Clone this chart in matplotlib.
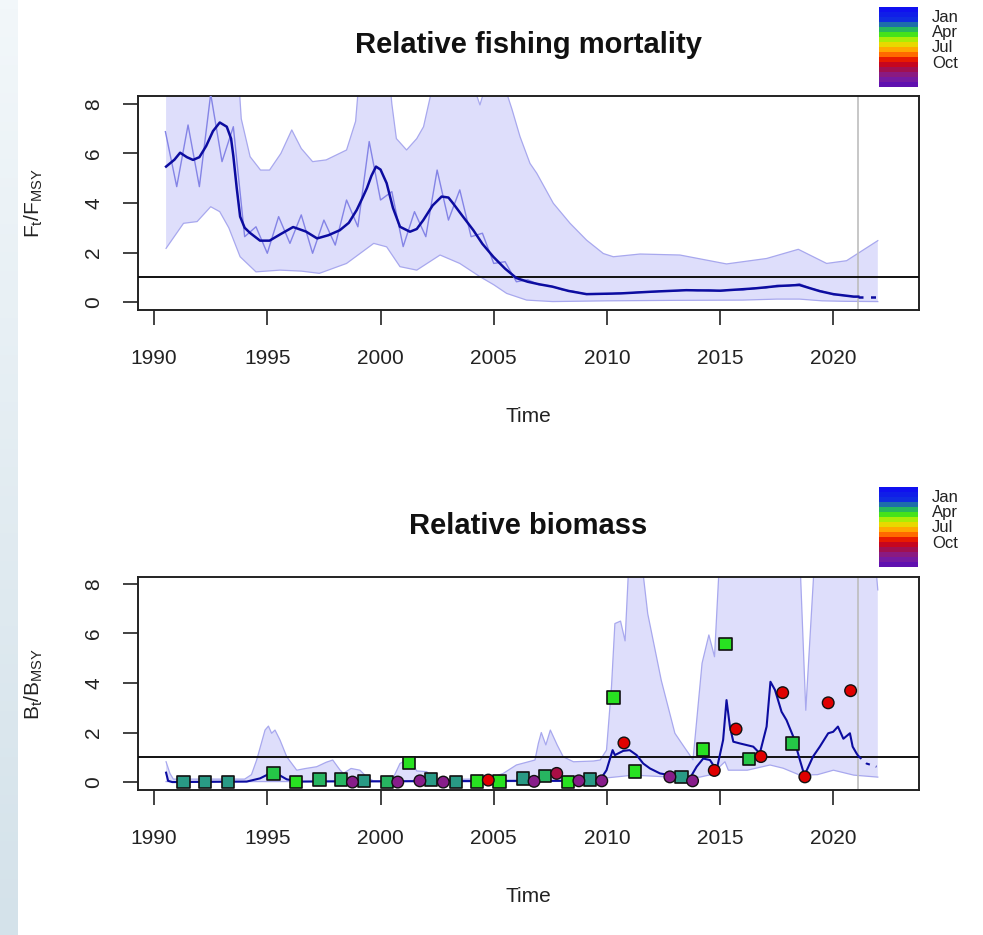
import numpy as np
import matplotlib
matplotlib.use("Agg")
import matplotlib.pyplot as plt
from matplotlib.colors import LinearSegmentedColormap

plt.rcParams['font.family'] = ['Liberation Sans', 'DejaVu Sans']
plt.rcParams['mathtext.default'] = 'regular'

# ---------------- data: relative fishing mortality ----------------
f_smooth_t = [1990.53, 1990.9, 1991.15, 1991.45, 1991.72, 1992.0, 1992.3, 1992.6, 1992.9, 1993.21,
              1993.4, 1993.5, 1993.65, 1993.8, 1994.0, 1994.24, 1994.68, 1995.1, 1995.6, 1996.14,
              1996.7, 1997.2, 1997.7, 1998.2, 1998.6, 1998.95, 1999.2, 1999.4, 1999.6, 1999.8,
              2000.0, 2000.27, 2000.55, 2000.86, 2001.3, 2001.6, 2001.89, 2002.3, 2002.7, 2003.0,
              2003.2, 2003.6, 2004.1, 2004.5, 2004.98, 2005.5, 2006.0, 2006.5, 2007.0, 2007.6,
              2008.3, 2009.1, 2010.6, 2012.0, 2013.5, 2015.0, 2016.5, 2017.6, 2018.5, 2019.4,
              2020.0, 2020.9, 2021.1]
f_smooth = [5.47, 5.75, 6.03, 5.85, 5.74, 5.85, 6.3, 6.9, 7.25, 7.08,
            6.6, 5.9, 4.6, 3.45, 3.0, 2.79, 2.48, 2.48, 2.75, 3.03,
            2.85, 2.57, 2.7, 2.9, 3.2, 3.72, 4.2, 4.6, 5.1, 5.47,
            5.35, 4.8, 3.8, 3.04, 2.84, 2.95, 3.31, 3.9, 4.26, 4.22,
            3.99, 3.5, 2.9, 2.35, 1.83, 1.35, 0.97, 0.82, 0.72, 0.62,
            0.45, 0.32, 0.35, 0.42, 0.48, 0.46, 0.55, 0.65, 0.69, 0.44,
            0.32, 0.22, 0.22]
f_pred_t = [2021.1, 2021.9]
f_pred = [0.22, 0.22]

f_season_t = [1990.5, 1991.0, 1991.5, 1992.0, 1992.5, 1993.0, 1993.5, 1994.0, 1994.5, 1995.0,
              1995.5, 1996.0, 1996.5, 1997.0, 1997.5, 1998.0, 1998.5, 1999.0, 1999.5, 2000.0,
              2000.5, 2001.0, 2001.5, 2002.0, 2002.5, 2003.0, 2003.5, 2004.0, 2004.5, 2005.0,
              2005.5, 2006.0, 2006.5, 2007.0, 2007.5, 2008.0, 2008.5, 2009.0, 2009.5, 2010.0,
              2010.5, 2011.0, 2011.5, 2012.0, 2012.5, 2013.0, 2013.5, 2014.0, 2014.5, 2015.0,
              2015.5, 2016.0, 2016.5, 2017.0, 2017.5, 2018.0, 2018.5, 2019.0, 2019.5, 2020.0,
              2020.5, 2021.0]
f_season = [6.88, 4.66, 7.15, 4.66, 8.4, 5.67, 7.08, 2.64, 3.04, 1.97,
            3.45, 2.37, 3.52, 1.97, 3.31, 2.3, 4.12, 3.04, 6.48, 4.12,
            4.46, 2.24, 3.65, 2.64, 5.33, 3.31, 4.53, 2.64, 2.78, 1.56,
            1.63, 0.82, 0.9, 0.7, 0.66, 0.5, 0.44, 0.33, 0.34, 0.31,
            0.37, 0.36, 0.42, 0.4, 0.46, 0.44, 0.5, 0.46, 0.5, 0.44,
            0.5, 0.48, 0.58, 0.56, 0.68, 0.64, 0.74, 0.55, 0.44, 0.3,
            0.26, 0.2]

f_up_t = [1990.53, 1993.7, 1993.85, 1994.24, 1994.7, 1995.1, 1995.6, 1996.08, 1996.5, 1997.0,
          1997.6, 1998.5, 1998.9, 1999.1, 2000.35, 2000.5, 2000.7, 2001.15, 2001.6, 2001.9,
          2002.2, 2002.35, 2004.15, 2004.39, 2004.6, 2005.55, 2005.8, 2006.16, 2006.6, 2006.9,
          2007.63, 2008.37, 2009.1, 2009.84, 2010.28, 2011.46, 2013.22, 2015.28, 2017.05, 2018.45,
          2019.7, 2020.58, 2021.96]
f_up = [9.5, 9.5, 7.4, 5.87, 5.33, 5.33, 6.0, 6.95, 6.2, 5.67,
        5.74, 6.14, 7.3, 9.5, 9.5, 8.0, 6.6, 6.14, 6.6, 7.08,
        8.3, 9.5, 8.6, 7.96, 8.6, 8.5, 7.8, 6.68, 5.6, 5.2,
        3.99, 3.18, 2.5, 1.96, 1.83, 1.94, 1.9, 1.54, 1.76, 2.13,
        1.56, 1.67, 2.48]
f_lo_t = [1990.53, 1991.3, 1991.9, 1992.5, 1992.9, 1993.3, 1993.8, 1994.5, 1995.56, 1996.5,
          1997.3, 1998.5, 1999.7, 2000.27, 2000.86, 2001.6, 2002.63, 2003.5, 2004.4, 2005.0,
          2005.57, 2006.45, 2007.6, 2010.0, 2013.0, 2016.0, 2017.5, 2018.5, 2019.5, 2020.5,
          2021.96]
f_lo = [2.17, 3.18, 3.25, 3.85, 3.65, 3.0, 1.83, 1.22, 1.29, 1.25,
        1.16, 1.56, 2.37, 2.23, 1.43, 1.29, 1.9, 1.56, 1.02, 0.7,
        0.35, 0.08, 0.02, 0.05, 0.07, 0.08, 0.12, 0.12, 0.05, 0.03,
        0.02]

# ---------------- data: relative biomass ----------------
b_smooth_t = [1990.53, 1990.62, 1990.8, 1994.09, 1994.68, 1995.12, 1995.4, 1995.86, 1996.4, 1998.0,
              2000.0, 2002.0, 2004.0, 2006.0, 2008.0, 2009.69, 2009.98, 2010.25, 2010.35, 2010.72,
              2011.0, 2011.31, 2011.6, 2011.9, 2012.34, 2012.78, 2013.22, 2013.66, 2013.96, 2014.25,
              2014.55, 2014.84, 2015.13, 2015.28, 2015.43, 2015.58, 2015.87, 2016.46, 2016.75, 2017.05,
              2017.22, 2017.42, 2017.71, 2017.93, 2018.23, 2018.52, 2018.72, 2019.1, 2019.4, 2019.77,
              2019.99, 2020.2, 2020.44, 2020.73, 2020.85, 2021.02, 2021.1]
b_smooth = [0.38, 0.05, 0.0, 0.02, 0.15, 0.35, 0.35, 0.11, 0.02, 0.03,
            0.03, 0.04, 0.04, 0.05, 0.05, 0.08, 0.48, 1.29, 1.09, 1.26,
            1.29, 1.09, 0.75, 0.55, 0.35, 0.28, 0.22, 0.15, 0.62, 0.95,
            0.89, 0.48, 1.7, 3.31, 2.24, 1.63, 1.56, 1.43, 1.16, 2.24,
            4.05, 3.72, 2.84, 2.5, 1.83, 0.89, 0.27, 1.03, 1.43, 1.97,
            2.03, 2.24, 1.75, 1.97, 1.43, 1.16, 1.05]
b_pred_t = [2021.1, 2021.46, 2021.9]
b_pred = [1.05, 0.75, 0.62]

b_up_t = [1990.53, 1990.7, 1990.85, 1994.0, 1994.3, 1994.53, 1994.9, 1995.05, 1995.19, 1995.34,
          1995.56, 1995.86, 1996.3, 1996.7, 1997.18, 1997.6, 1997.89, 1998.2, 1998.36, 1998.7,
          1999.09, 1999.4, 1999.68, 2000.5, 2000.86, 2001.27, 2001.6, 2002.04, 2002.4, 2004.0,
          2004.8, 2005.42, 2006.0, 2006.82, 2006.97, 2007.1, 2007.3, 2007.5, 2007.8, 2008.07,
          2008.52, 2009.4, 2009.7, 2009.98, 2010.2, 2010.35, 2010.6, 2010.8, 2011.0, 2011.46,
          2011.8, 2012.4, 2013.0, 2013.4, 2013.8, 2014.2, 2014.5, 2014.75, 2015.0, 2018.5,
          2018.78, 2019.2, 2021.8, 2021.96]
b_up = [0.82, 0.35, 0.12, 0.12, 0.3, 0.89, 2.1, 2.26, 1.97, 2.1,
        1.7, 1.02, 0.48, 0.55, 0.62, 0.8, 0.89, 0.5, 0.35, 0.55,
        0.48, 0.2, 0.05, 0.05, 0.75, 0.95, 0.45, 0.42, 0.1, 0.12,
        0.15, 0.35, 0.69, 0.89, 1.56, 2.0, 1.5, 2.1, 1.5, 1.02,
        0.82, 0.85, 0.89, 1.29, 3.85, 6.4, 6.5, 5.7, 9.5, 9.5,
        6.8, 4.1, 1.97, 1.43, 0.9, 4.8, 5.94, 5.06, 9.5, 9.5,
        2.9, 9.5, 9.5, 7.76]
b_lo_t = [1990.53, 1995.0, 2000.0, 2005.0, 2009.7, 2009.9, 2011.17, 2012.64, 2014.1, 2014.6,
          2015.21, 2015.36, 2016.2, 2017.2, 2017.78, 2018.52, 2019.3, 2020.0, 2020.9, 2021.96]
b_lo = [0.02, 0.02, 0.02, 0.02, 0.03, 0.16, 0.28, 0.21, 0.2, 0.3,
        0.82, 0.48, 0.48, 0.69, 0.56, 0.28, 0.3, 0.48, 0.28, 0.2]

# observations (index 1: squares, index 2: circles); month used for colour
sq_t = [1991.3, 1992.25, 1993.27, 1995.27, 1996.27, 1997.3, 1998.26, 1999.27, 2000.29, 2001.27,
        2002.22, 2003.33, 2004.27, 2005.25, 2006.28, 2007.26, 2008.29, 2009.25, 2010.28, 2011.24,
        2013.3, 2014.25, 2015.24, 2016.28, 2018.2]
sq_v = [0.0, 0.0, 0.0, 0.35, 0.0, 0.11, 0.11, 0.05, 0.0, 0.78,
        0.11, 0.0, 0.02, 0.02, 0.15, 0.24, 0.0, 0.11, 3.41, 0.42,
        0.21, 1.32, 5.58, 0.94, 1.56]
sq_month = [1.8, 1.8, 1.8, 2.5, 3, 2.2, 2.2, 1.8, 2.2, 3,
            1.8, 1.8, 3, 3, 1.8, 2.2, 3, 1.8, 3, 3,
            1.8, 3, 3, 2.5, 2.5]
ci_t = [1998.76, 2000.76, 2001.74, 2002.77, 2004.76, 2006.78, 2007.78, 2008.76, 2009.77, 2010.75,
        2012.78, 2013.78, 2014.74, 2015.7, 2016.8, 2017.76, 2018.74, 2019.77, 2020.76]
ci_v = [0.0, 0.0, 0.05, 0.0, 0.08, 0.03, 0.35, 0.05, 0.05, 1.58,
        0.21, 0.05, 0.47, 2.14, 1.03, 3.61, 0.21, 3.2, 3.69]
ci_month = [12, 12, 12, 12, 9, 12, 10.5, 12, 12, 9,
            12, 12, 9, 9, 9, 9, 9, 9, 9]

legend_months = ['Jan', 'Apr', 'Jul', 'Oct']
x_ticks = [1990, 1995, 2000, 2005, 2010, 2015, 2020]
y_ticks = [0, 2, 4, 6, 8]

# ---------------- styling ----------------
cmap = LinearSegmentedColormap.from_list('season', [
    (0.0, '#1010f0'), (0.15, '#1030e0'), (0.24, '#2aa080'), (0.31, '#22e022'),
    (0.42, '#c8f000'), (0.5, '#ffc800'), (0.6, '#ff6a00'), (0.69, '#e00000'),
    (0.8, '#a01050'), (0.9, '#80209a'), (1.0, '#6010b0')])


def month_pos(m):
    return 0.125 + np.asarray(m) * 0.0625


BAND = '#dedefb'
BAND_EDGE = '#a8a8ee'
DARK = '#0c0ca0'
LIGHT = '#8484e6'
TICK_FS = 15
fig = plt.figure(figsize=(9.83, 9.35), dpi=100)

# left page strip
strip = fig.add_axes([0, 0, 18 / 983, 1])
strip.imshow(np.linspace(0, 1, 100).reshape(-1, 1), aspect='auto',
             cmap=LinearSegmentedColormap.from_list('s', ['#f2f7fa', '#d4e2ea']),
             extent=[0, 1, 0, 1], origin='upper')
strip.axis('off')


def setup(ax, ylab):
    ax.set_xlim(1989.29, 2023.78)
    ax.set_xticks(x_ticks)
    ax.set_yticks(y_ticks)
    ax.tick_params(axis='both', direction='out', length=11, width=1.2, labelsize=TICK_FS, colors='#222222')
    ax.tick_params(axis='x', pad=17)
    ax.tick_params(axis='y', pad=14)
    for lab in ax.get_yticklabels():
        lab.set_rotation(90)
        lab.set_va('center')
    for s in ax.spines.values():
        s.set_linewidth(1.4)
        s.set_color('#222222')
    ax.set_xlabel('Time', fontsize=TICK_FS, labelpad=28, color='#222222')
    ax.set_ylabel(ylab, fontsize=TICK_FS, labelpad=28, color='#222222')


def band(ax, tu, u, tl, l):
    xs = np.concatenate([tu, tl[::-1]])
    ys = np.concatenate([u, l[::-1]])
    ax.fill(xs, ys, facecolor=BAND, edgecolor='none', zorder=1)
    ax.plot(tu, u, color=BAND_EDGE, lw=0.9, zorder=2)
    ax.plot(tl, l, color=BAND_EDGE, lw=0.9, zorder=2)


# ---------------- top panel ----------------
ax1 = fig.add_axes([138 / 983, 1 - 310 / 935, 781 / 983, 214 / 935])
ax1.set_ylim(-0.32, 8.32)
band(ax1, np.array(f_up_t), np.array(f_up), np.array(f_lo_t), np.array(f_lo))
ax1.axvline(2021.1, color='#bdbdbd', lw=1.2, zorder=2)
ax1.axhline(1, color='#111111', lw=1.4, zorder=3)
ax1.plot(f_season_t, f_season, color=LIGHT, lw=1.0, zorder=4)
ax1.plot(f_smooth_t, f_smooth, color=DARK, lw=1.8, zorder=5)
ax1.plot(f_pred_t, f_pred, color=DARK, lw=1.8, ls=(0, (2, 3)), zorder=5)
setup(ax1, r'$F_t/F_{MSY}$')
ax1.set_title('Relative fishing mortality', fontsize=21, fontweight='bold', pad=31, color='#111111')

# ---------------- bottom panel ----------------
ax2 = fig.add_axes([138 / 983, 1 - 790 / 935, 781 / 983, 213 / 935])
ax2.set_ylim(-0.32, 8.28)
band(ax2, np.array(b_up_t), np.array(b_up), np.array(b_lo_t), np.array(b_lo))
ax2.axvline(2021.1, color='#bdbdbd', lw=1.2, zorder=2)
ax2.axhline(1, color='#111111', lw=1.4, zorder=3)
ax2.plot(b_smooth_t, b_smooth, color=DARK, lw=1.5, zorder=5)
ax2.plot(b_pred_t, b_pred, color=DARK, lw=1.5, ls=(0, (2, 3)), zorder=5)
ax2.scatter(sq_t, sq_v, marker='s', s=80, c=cmap(month_pos(sq_month)),
            edgecolors='#111111', linewidths=1.2, zorder=6, clip_on=False)
ax2.scatter(ci_t, ci_v, marker='o', s=70, c=cmap(month_pos(ci_month)),
            edgecolors='#111111', linewidths=1.0, zorder=6, clip_on=False)
setup(ax2, r'$B_t/B_{MSY}$')
ax2.set_title('Relative biomass', fontsize=21, fontweight='bold', pad=31, color='#111111')

# ---------------- colour legends ----------------
for top in (7, 487):
    lax = fig.add_axes([879 / 983, 1 - (top + 80) / 935, 39 / 983, 80 / 935])
    lax.imshow(np.linspace(0, 1, 16).reshape(-1, 1), aspect='auto', cmap=cmap,
               origin='upper', interpolation='nearest', extent=[0, 1, 0, 1])
    lax.axis('off')
    for i, name in enumerate(legend_months):
        fig.text(932 / 983, 1 - (top + 11 + 15 * i) / 935, name, fontsize=12,
                 va='center', ha='left', color='#222222')

fig.savefig('out.png', dpi=100)
